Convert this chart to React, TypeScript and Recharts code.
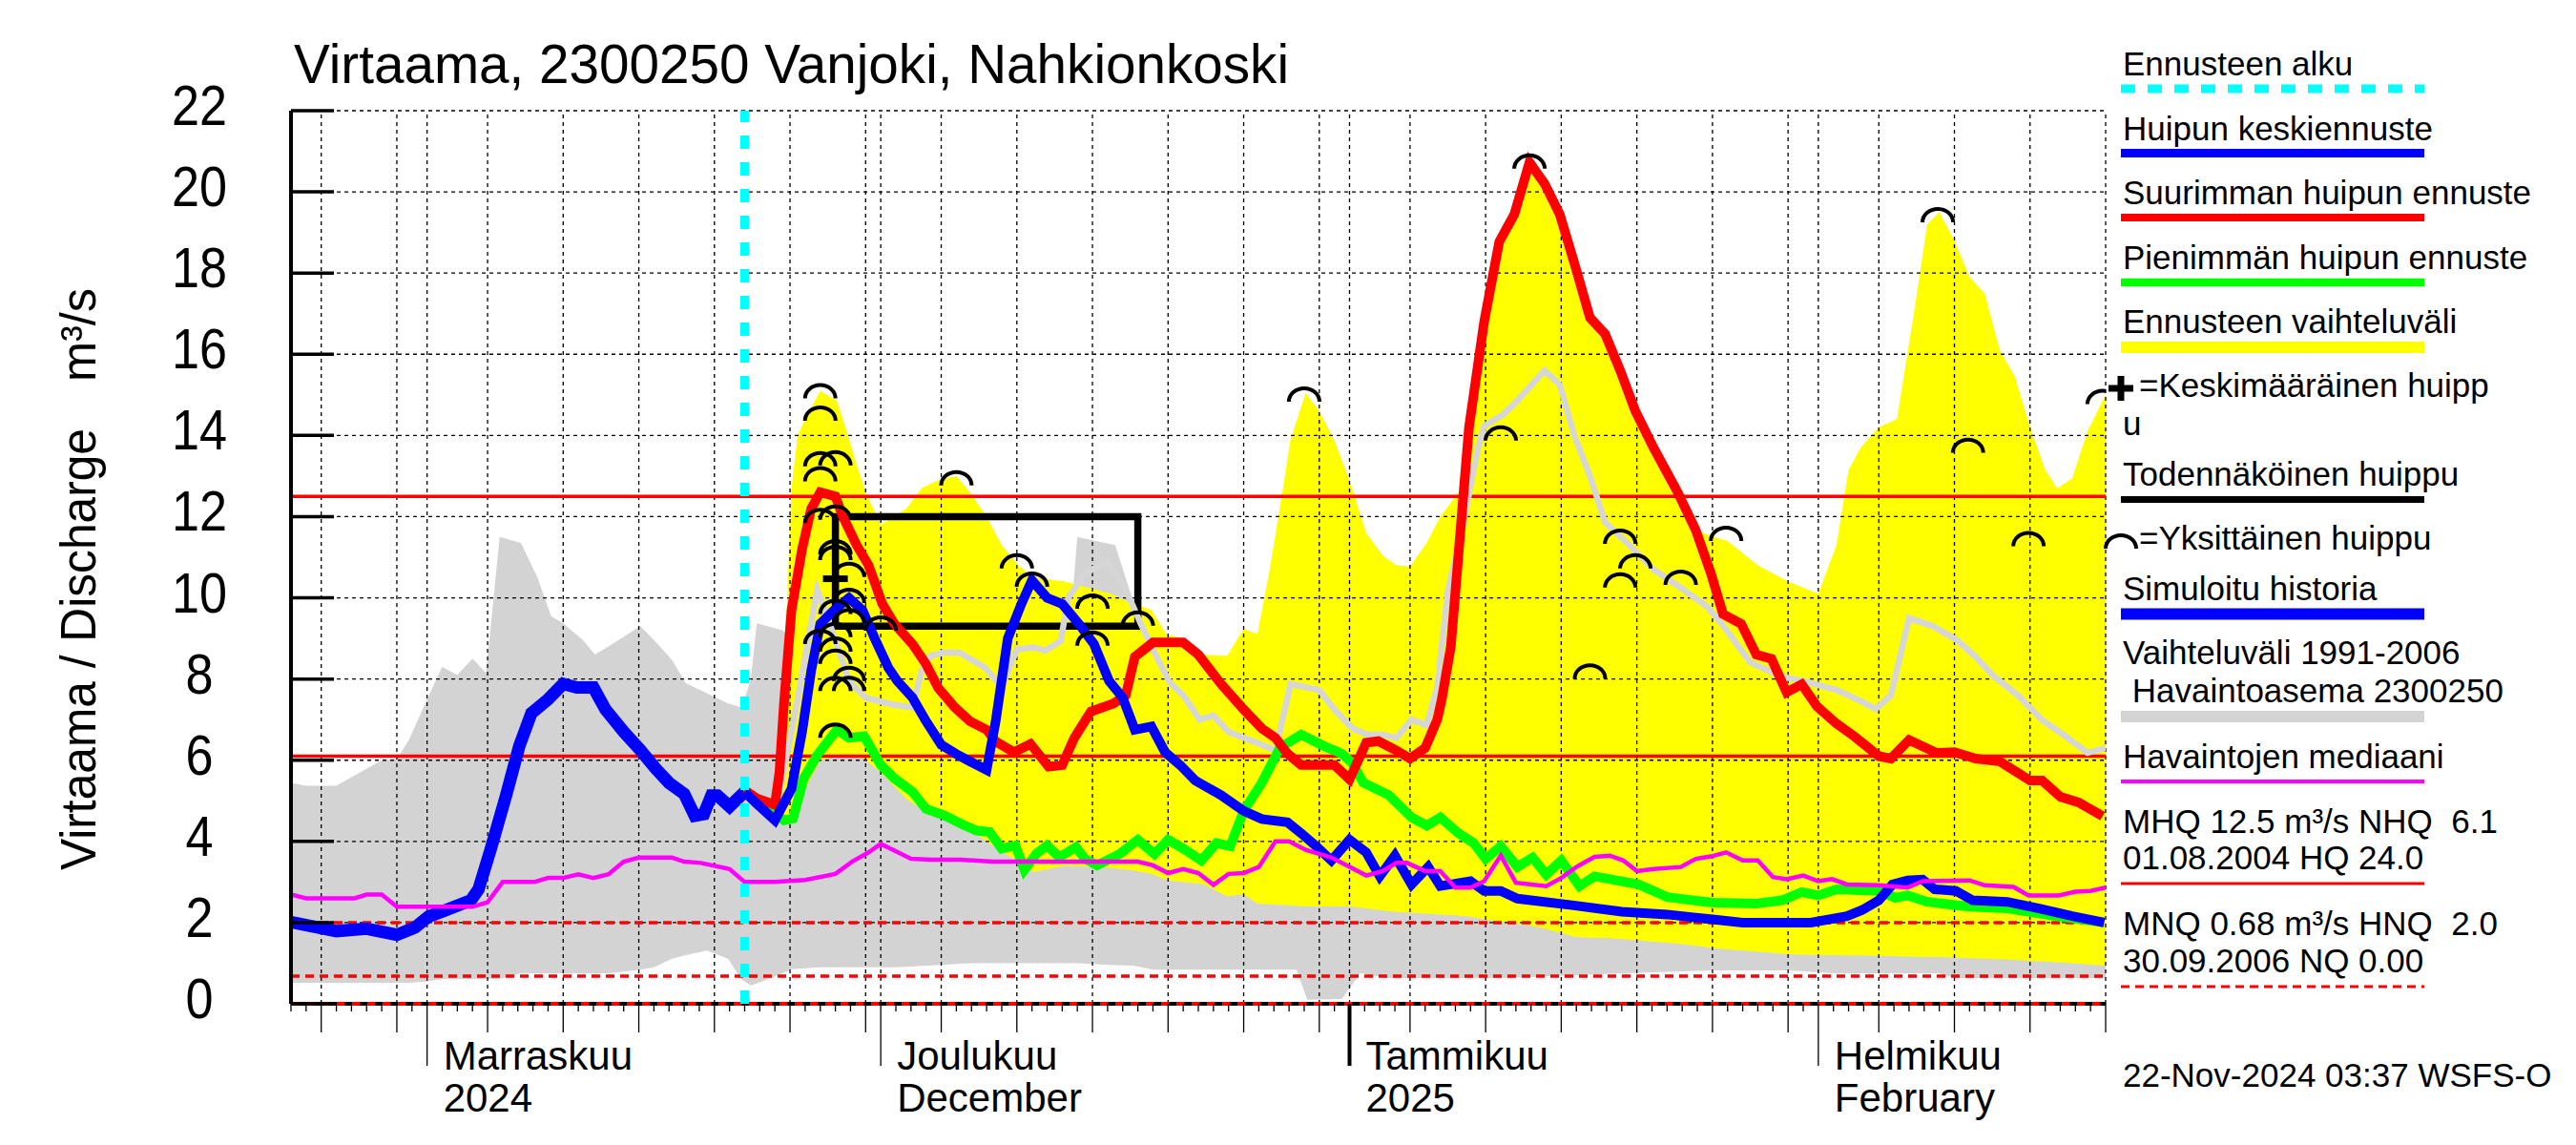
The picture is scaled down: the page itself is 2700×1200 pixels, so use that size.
import React from "react";
import {
  ComposedChart,
  Area,
  Line,
  Scatter,
  XAxis,
  YAxis,
  ReferenceLine,
  ReferenceArea,
} from "recharts";

const FONT = "'Liberation Sans', Arial, Helvetica, sans-serif";
const DAY_MS = 86400000;
// day 0 of the x axis = 23.10.2024
const START = Date.UTC(2024, 9, 23);

// ---- axis labels ----
const yTicks = [0, 2, 4, 6, 8, 10, 12, 14, 16, 18, 20, 22];
const monthStartDays = [9, 39, 70, 101];
const monthTop = ["Marraskuu", "Joulukuu", "Tammikuu", "Helmikuu"];
const monthBottom = ["2024", "December", "2025", "February"];

// ---- reference levels ----
const forecastStart = 30;
const MHQ = 12.5;
const NHQ = 6.1;
const HNQ = 2.0;
const MNQ = 0.68;

// ---- observed range 1991-2006 (grey band) ----
const grayDays = [0, 1, 3, 4, 6, 7, 7.8, 9, 10, 11, 12, 12.9, 13.8, 15.2, 16.3, 17.2, 18, 19.3, 20.1, 21, 23.1, 24, 25.2, 26.1, 27.5, 28.9, 29.8, 30.4, 30.8, 32.5, 33.1, 35, 40, 45, 50, 51.5, 52, 54.5, 55.7, 57, 62, 66.5, 67.2, 69.5, 70.7, 72.6, 80, 88, 94, 99, 102, 109, 110, 120];
const grayHigh = [5.44, 5.37, 5.37, 5.58, 6.0, 6.03, 6.5, 7.5, 8.3, 8.1, 8.5, 8.15, 11.5, 11.35, 10.5, 9.55, 9.37, 8.96, 8.6, 8.8, 9.3, 8.96, 8.47, 7.9, 7.65, 7.4, 7.3, 7.97, 9.37, 9.2, 8.98, 8.5, 8.0, 8.5, 8.8, 9.2, 11.5, 11.3, 9.9, 8.5, 7.5, 7.2, 7.0, 7.0, 7.0, 7.0, 7.0, 6.5, 6.5, 6.0, 6.0, 6.0, 6.0, 5.5];
const grayLow = [0.52, 0.52, 0.52, 0.52, 0.52, 0.52, 0.52, 0.55, 0.61, 0.61, 0.61, 0.61, 0.61, 0.75, 0.75, 0.75, 0.75, 0.75, 0.75, 0.75, 0.84, 0.9, 1.11, 1.2, 1.31, 1.11, 0.6, 0.45, 0.5, 0.75, 0.85, 0.9, 0.9, 1.0, 1.0, 1.0, 1.0, 0.95, 0.94, 0.84, 0.84, 0.84, 0.1, 0.12, 0.75, 0.63, 0.63, 0.75, 0.82, 0.82, 0.75, 0.75, 0.63, 0.63];

// ---- forecast range (yellow band) ----
const yellowDays = [30, 31, 32, 32.6, 33.1, 33.5, 34, 35, 36.1, 36.5, 37.4, 38, 39, 40.7, 41.7, 42.8, 44, 44.9, 46, 47, 48.1, 49.1, 51.2, 54.2, 55.4, 56.9, 57.9, 58.9, 60.3, 61.9, 63, 63.9, 64.7, 65.6, 66.1, 67.1, 68, 69, 70, 71.1, 72.2, 73.1, 74, 75.1, 76, 77.2, 77.9, 78.9, 79.9, 80.9, 81.9, 82.9, 83.9, 84.9, 85.9, 86.9, 87.9, 88.9, 90.1, 91.7, 92.9, 94.1, 95, 97, 99, 101, 102.2, 103, 103.8, 105, 106.2, 107.4, 108.2, 109, 110, 111, 112, 113, 114, 115, 116, 116.8, 117.8, 118.8, 120];
const yellowHigh = [5.26, 5.0, 4.8, 8.0, 12.7, 14.0, 14.4, 15.1, 14.85, 14.4, 13.3, 12.6, 11.8, 12.2, 12.7, 12.9, 13.0, 12.6, 12.0, 11.3, 10.8, 10.5, 10.4, 10.1, 9.9, 9.7, 9.1, 9.0, 8.6, 8.57, 9.24, 9.1, 10.65, 12.7, 13.9, 15.04, 14.6, 13.87, 12.9, 11.6, 11.04, 10.8, 10.77, 11.35, 12.0, 12.6, 14.2, 16.8, 18.77, 19.45, 20.73, 20.2, 19.45, 18.2, 16.9, 16.5, 15.6, 14.6, 13.7, 12.6, 11.66, 11.5, 11.4, 10.8, 10.4, 10.1, 11.3, 13.15, 13.7, 14.2, 14.4, 17.2, 19.2, 19.5, 18.8, 17.9, 17.5, 16.1, 15.45, 14.2, 13.15, 12.7, 12.95, 14.1, 15.0];
const yellowLow = [5.2, 4.85, 4.45, 4.45, 4.55, 4.9, 5.3, 6.0, 6.1, 6.1, 6.1, 6.0, 5.7, 5.05, 4.8, 4.7, 4.45, 4.3, 4.0, 3.75, 3.5, 3.25, 3.4, 3.35, 3.3, 3.2, 3.05, 3.0, 2.95, 2.65, 2.7, 2.47, 2.45, 2.43, 2.42, 2.4, 2.4, 2.4, 2.4, 2.35, 2.3, 2.26, 2.24, 2.22, 2.2, 2.17, 2.15, 2.08, 2.03, 1.98, 1.93, 1.85, 1.75, 1.65, 1.63, 1.62, 1.6, 1.57, 1.53, 1.48, 1.43, 1.37, 1.34, 1.28, 1.22, 1.2, 1.2, 1.19, 1.19, 1.18, 1.17, 1.16, 1.15, 1.15, 1.14, 1.12, 1.11, 1.1, 1.08, 1.06, 1.04, 1.02, 1.0, 0.97, 0.94];

// ---- light grey forecast line ----
const lightDays = [30, 32, 33.5, 34.8, 35.5, 36.5, 36.9, 38.0, 39.8, 41.1, 41.7, 42.3, 43.1, 44.2, 45.9, 47.0, 48.0, 49.1, 49.9, 50.9, 51.4, 52.5, 54.0, 55.2, 56.2, 57.4, 58.1, 59.0, 60.1, 61.0, 62.0, 63.0, 63.9, 65.1, 66.1, 68.0, 69.0, 70.2, 71.2, 72.2, 73.1, 74.1, 75.1, 75.8, 76.5, 77.5, 78.5, 78.9, 80.1, 80.9, 82.9, 83.9, 84.9, 85.9, 86.9, 88.5, 90.1, 91.7, 93.7, 94.9, 96.5, 98.5, 100.1, 102.2, 103.8, 104.8, 105.8, 107.0, 108.6, 110.2, 111.4, 112.6, 114.2, 115.8, 117.4, 118.8, 120];
const lightValues = [5.2, 4.6, 7.5, 10.2, 9.5, 8.4, 7.95, 7.54, 7.37, 7.3, 8.2, 8.57, 8.65, 8.65, 8.28, 7.8, 8.73, 8.78, 8.7, 8.94, 10.0, 10.6, 10.9, 10.2, 9.36, 8.43, 7.92, 7.6, 7.0, 7.1, 6.7, 6.55, 6.43, 6.24, 7.88, 7.73, 7.25, 6.78, 6.63, 6.63, 6.55, 7.0, 6.86, 7.8, 10.17, 11.8, 13.7, 14.23, 14.5, 14.78, 15.6, 15.25, 13.96, 13.0, 11.86, 11.3, 10.7, 10.3, 9.77, 9.22, 8.41, 8.07, 7.94, 7.73, 7.46, 7.26, 7.6, 9.5, 9.3, 8.95, 8.55, 8.07, 7.6, 6.99, 6.58, 6.18, 6.3];

// ---- simulated history ----
const historyDays = [0, 3, 5, 7, 8.2, 9.1, 10.2, 11.9, 12.4, 13.2, 14.2, 15.1, 15.9, 17, 18, 18.9, 20, 20.8, 22, 23.1, 24.1, 25, 26, 26.7, 27.3, 27.8, 28.2, 29, 30];
const historyValues = [2.01, 1.79, 1.85, 1.7, 1.88, 2.15, 2.3, 2.55, 2.82, 3.8, 5.1, 6.35, 7.16, 7.5, 7.88, 7.79, 7.79, 7.25, 6.7, 6.25, 5.8, 5.44, 5.17, 4.63, 4.67, 5.13, 5.13, 4.86, 5.22];

// ---- median of observations ----
const medianDays = [0, 1, 4.2, 5, 6, 7, 12, 13, 14, 16.1, 17, 18, 19, 20, 21, 22, 23, 25.2, 26, 27.1, 29, 30, 32, 34, 36, 37.1, 38.2, 39, 40.3, 41, 42.4, 44.3, 46.4, 53.3, 56, 57, 58, 59, 60, 61, 62, 63, 64, 65.1, 66, 67.1, 68.8, 70, 71.1, 72.2, 73.1, 73.8, 75, 76, 77, 78, 78.9, 80, 81, 83, 84, 85, 86.2, 87.2, 88.1, 89, 90.1, 91.9, 92.9, 93.9, 94.9, 96, 97, 98, 98.9, 100, 101, 101.9, 102.9, 105, 106.9, 107.9, 111, 112, 113.9, 114.9, 116.9, 118, 119, 120];
const medianValues = [2.69, 2.6, 2.6, 2.69, 2.69, 2.39, 2.39, 2.5, 3.0, 3.0, 3.1, 3.1, 3.19, 3.1, 3.19, 3.5, 3.6, 3.6, 3.5, 3.47, 3.32, 3.0, 3.0, 3.05, 3.2, 3.5, 3.73, 3.94, 3.7, 3.57, 3.55, 3.55, 3.5, 3.5, 3.5, 3.41, 3.22, 3.32, 3.22, 2.93, 3.2, 3.22, 3.37, 4.0, 4.0, 3.79, 3.6, 3.37, 3.16, 3.27, 3.47, 3.47, 3.27, 3.27, 2.86, 2.86, 3.02, 3.65, 2.98, 2.9, 3.1, 3.37, 3.62, 3.65, 3.53, 3.27, 3.32, 3.37, 3.57, 3.63, 3.73, 3.53, 3.53, 3.12, 3.07, 3.16, 3.02, 3.07, 2.94, 2.92, 2.86, 3.02, 3.04, 2.92, 2.88, 2.67, 2.67, 2.76, 2.78, 2.86];

// ---- largest peak forecast (red) ----
const redDays = [30, 30.8, 32.0, 32.3, 32.6, 33.1, 33.8, 34.4, 35.0, 36.0, 36.5, 37.4, 38.2, 39.1, 39.9, 41.1, 42.0, 42.8, 43.9, 44.9, 46.0, 46.6, 47.8, 48.9, 50.1, 51.0, 51.8, 52.9, 54.4, 55.2, 55.8, 57.0, 59.0, 60.0, 61.5, 63.0, 64.2, 65.1, 65.9, 66.8, 69.0, 70.0, 71.1, 71.9, 73.1, 74.0, 75.0, 75.8, 76.1, 76.7, 77.3, 77.9, 78.9, 79.9, 80.9, 81.9, 82.9, 83.9, 84.9, 85.9, 86.9, 87.9, 88.9, 90.1, 91.7, 92.9, 93.9, 94.7, 95.9, 96.9, 97.9, 98.9, 99.9, 100.9, 102.2, 103.4, 105.0, 105.8, 107.0, 108.8, 110.0, 111.4, 113.0, 115.0, 115.8, 117.0, 118.2, 119.8];
const redValues = [5.26, 5.06, 4.9, 5.7, 7.4, 9.7, 11.2, 12.2, 12.6, 12.5, 12.0, 11.3, 10.8, 9.85, 9.36, 8.86, 8.36, 7.78, 7.3, 6.96, 6.75, 6.46, 6.2, 6.4, 5.84, 5.88, 6.55, 7.2, 7.4, 7.6, 8.55, 8.9, 8.9, 8.6, 7.88, 7.25, 6.78, 6.55, 6.16, 5.88, 5.88, 5.53, 6.43, 6.47, 6.24, 6.04, 6.3, 7.0, 7.5, 8.8, 11.5, 14.2, 16.8, 18.77, 19.45, 20.73, 20.2, 19.45, 18.2, 16.9, 16.5, 15.6, 14.6, 13.7, 12.6, 11.66, 10.6, 9.6, 9.36, 8.6, 8.5, 7.67, 7.87, 7.33, 6.9, 6.58, 6.1, 6.04, 6.5, 6.18, 6.2, 6.04, 5.97, 5.5, 5.5, 5.1, 4.96, 4.62];

// ---- mean peak forecast (blue) ----
const blueDays = [30, 30.8, 32.0, 33.1, 33.8, 34.4, 35.0, 35.9, 36.9, 37.8, 38.6, 39.5, 40.1, 41.1, 42.0, 43.0, 44.1, 44.9, 46.0, 46.6, 47.4, 48.3, 49.0, 50.0, 51.0, 52.1, 53.1, 54.1, 55.0, 55.8, 56.9, 57.8, 58.8, 59.8, 61.5, 63.0, 64.2, 65.9, 66.8, 67.8, 68.8, 70.0, 71.1, 72.0, 73.0, 74.1, 75.2, 76.0, 78.0, 78.9, 80.0, 81.1, 84.7, 88.0, 91.0, 94.0, 96.0, 100.5, 102.9, 103.9, 105.0, 105.9, 106.9, 107.9, 108.7, 110.1, 111.2, 113.5, 115.6, 117.8, 119.9];
const blueValues = [5.22, 4.93, 4.52, 5.3, 6.7, 8.2, 9.36, 9.69, 10.0, 9.69, 9.0, 8.28, 7.95, 7.54, 6.96, 6.38, 6.13, 5.97, 5.76, 6.96, 9.0, 9.85, 10.43, 10.0, 9.85, 9.36, 8.86, 7.95, 7.54, 6.75, 6.83, 6.2, 5.88, 5.5, 5.14, 4.75, 4.55, 4.47, 4.2, 3.88, 3.53, 4.04, 3.73, 3.14, 3.65, 2.94, 3.37, 2.9, 3.02, 2.78, 2.78, 2.59, 2.43, 2.27, 2.2, 2.08, 2.0, 2.0, 2.16, 2.31, 2.55, 2.94, 3.04, 3.06, 2.82, 2.78, 2.55, 2.51, 2.35, 2.16, 2.0];

// ---- smallest peak forecast (green) ----
const greenDays = [30, 31.2, 32.6, 33.2, 33.9, 34.8, 36.1, 36.9, 37.9, 39.0, 39.9, 41.1, 42.0, 43.2, 44.5, 45.3, 46.2, 47.0, 47.9, 48.5, 49.3, 50.0, 50.8, 51.9, 52.5, 53.3, 54.8, 56.0, 57.1, 58.0, 59.1, 60.2, 61.2, 62.1, 63.0, 64.2, 65.4, 66.8, 68.3, 69.5, 70.2, 70.9, 72.6, 74.1, 75.1, 76.0, 77.2, 78.2, 79.0, 80.0, 81.1, 82.1, 83.0, 84.0, 85.2, 86.2, 89.1, 91.0, 94.0, 96.9, 98.6, 99.9, 101.0, 102.2, 105.0, 106.1, 106.9, 108.2, 111.0, 113.5, 116.7, 119.9];
const greenValues = [5.22, 4.93, 4.52, 4.56, 5.55, 6.13, 6.75, 6.55, 6.59, 5.88, 5.55, 5.22, 4.8, 4.64, 4.4, 4.27, 4.23, 3.82, 3.9, 3.3, 3.7, 3.9, 3.61, 3.86, 3.57, 3.41, 3.69, 4.04, 3.69, 4.04, 3.8, 3.53, 3.96, 3.88, 4.75, 5.45, 6.31, 6.63, 6.35, 6.16, 5.92, 5.45, 5.14, 4.59, 4.39, 4.59, 4.2, 3.96, 3.57, 3.88, 3.37, 3.6, 3.18, 3.53, 2.9, 3.14, 2.94, 2.63, 2.49, 2.47, 2.55, 2.75, 2.67, 2.82, 2.78, 2.61, 2.67, 2.51, 2.39, 2.35, 2.16, 2.0];

// ---- single ensemble peaks (arch markers) ----
const peakDays = [35, 35, 35, 36, 35, 35, 36, 36, 36, 36.9, 36.9, 36, 36.9, 35, 36, 36, 36, 36.9, 36, 36.9, 36, 39, 44, 48, 49, 53, 53, 56, 67, 80, 81.9, 87.9, 88.9, 87.9, 91.9, 94.9, 85.9, 108.9, 110.9, 114.9, 119.8];
const peakValues = [15.24, 14.69, 13.57, 13.59, 13.2, 12.17, 12.25, 11.4, 11.26, 10.84, 10.2, 9.93, 9.7, 9.19, 9.36, 9.0, 8.7, 8.28, 8.03, 8.03, 6.88, 9.52, 13.1, 11.05, 10.6, 10.06, 9.15, 9.64, 15.16, 14.2, 20.9, 11.66, 11.05, 10.58, 10.65, 11.73, 8.34, 19.58, 13.9, 11.6, 15.1];

// ---- mean peak and probable peak window ----
const meanPeakDays = [36];
const meanPeakValues = [10.47];
const probableDays = [36, 56];
const probableValues = [9.3, 12.0];

const toPoints = (days: number[], vals: number[]) => days.map((d, i) => ({ d, v: vals[i] }));
const toBand = (days: number[], lo: number[], hi: number[]) =>
  days.map((d, i) => ({ d, r: [lo[i], hi[i]] }));

const dateOf = (day: number) => new Date(START + day * DAY_MS);
const allDays = Array.from({ length: 121 }, (_, i) => i);
const gridDays = allDays.filter((d) => {
  const dom = dateOf(d).getUTCDate();
  return dom === 1 || dom % 5 === 0;
});

function XTick(props: any) {
  const { x, y, payload } = props;
  const dt = dateOf(payload.value);
  const dom = dt.getUTCDate();
  const m = monthStartDays.indexOf(payload.value);
  const yearStart = dom === 1 && dt.getUTCMonth() === 0;
  const len = dom === 1 ? 65 : dom % 5 === 0 ? 30 : 8;
  return (
    <g>
      <line x1={x} x2={x} y1={y} y2={y + len} stroke="#000" strokeWidth={yearStart ? 4 : 1.3} />
      {m >= 0 && (
        <text fontFamily={FONT} fontSize={42} fill="#000">
          <tspan x={x + 17} y={y + 69}>{monthTop[m]}</tspan>
          <tspan x={x + 17} y={y + 113}>{monthBottom[m]}</tspan>
        </text>
      )}
    </g>
  );
}

function YTick(props: any) {
  const { x, y, payload } = props;
  const s = String(payload.value);
  return (
    <g>
      <line x1={x} x2={x + 45} y1={y} y2={y} stroke="#000" strokeWidth={3.5} />
      <text
        x={x - 96}
        y={y + 15}
        textAnchor="middle"
        fontFamily={FONT}
        fontSize={60}
        fill="#000"
        textLength={s.length * 29}
        lengthAdjust="spacingAndGlyphs"
      >
        {s}
      </text>
    </g>
  );
}

function Arch({ cx, cy }: { cx: number; cy: number }) {
  return (
    <path
      d={`M${cx - 16},${cy + 14} A16 14 0 0 1 ${cx + 16},${cy + 14}`}
      fill="none"
      stroke="#000"
      strokeWidth={4}
    />
  );
}

function Plus({ cx, cy }: { cx: number; cy: number }) {
  return (
    <g fill="#000">
      <rect x={cx - 13} y={cy - 3.5} width={26} height={7} />
      <rect x={cx - 3.5} y={cy - 13} width={7} height={26} />
    </g>
  );
}

// legend: text lines (baseline y) and a swatch below them
const legendItems = [
  { lines: ["Ennusteen alku"], ys: [78.5], sy: 93, sw: 9, color: "#00ffff", dash: "15 13" },
  { lines: ["Huipun keskiennuste"], ys: [146.6], sy: 160.5, sw: 9, color: "#0000ff" },
  { lines: ["Suurimman huipun ennuste"], ys: [214], sy: 228, sw: 8, color: "#ff0000" },
  { lines: ["Pienimmän huipun ennuste"], ys: [282], sy: 296, sw: 8.5, color: "#00ff00" },
  { lines: ["Ennusteen vaihteluväli"], ys: [349], sy: 364, sw: 12, color: "#ffff00" },
  { lines: ["Todennäköinen huippu"], ys: [509], sy: 523.5, sw: 7, color: "#000000" },
  { lines: ["Simuloitu historia"], ys: [629], sy: 643.5, sw: 12, color: "#0000ff" },
  { lines: ["Vaihteluväli 1991-2006", " Havaintoasema 2300250"], ys: [696, 736], sy: 751, sw: 12, color: "#d3d3d3" },
  { lines: ["Havaintojen mediaani"], ys: [805], sy: 819, sw: 4, color: "#ff00ff" },
  { lines: ["MHQ 12.5 m³/s NHQ  6.1", "01.08.2004 HQ 24.0"], ys: [872.5, 911], sy: 926, sw: 3, color: "#ff0000" },
  { lines: ["MNQ 0.68 m³/s HNQ  2.0", "30.09.2006 NQ 0.00"], ys: [980, 1019], sy: 1034, sw: 3, color: "#ff0000", dash: "9 6" },
];

export default function App() {
  const gray = toBand(grayDays, grayLow, grayHigh);
  const yellow = toBand(yellowDays, yellowLow, yellowHigh);
  return (
    <div style={{ position: "absolute", left: 0, top: 0, width: 2700, height: 1200, background: "#fff" }}>
      <ComposedChart width={2700} height={1200} margin={{ top: 116, right: 493, bottom: 0, left: 0 }}>
        <XAxis
          dataKey="d"
          type="number"
          domain={[0, 120]}
          ticks={allDays}
          interval={0}
          tick={<XTick />}
          tickLine={false}
          tickSize={0}
          tickMargin={0}
          axisLine={false}
          height={148}
          allowDataOverflow
        />
        <YAxis
          type="number"
          domain={[0, 22]}
          ticks={yTicks}
          interval={0}
          tick={<YTick />}
          tickLine={false}
          tickSize={0}
          tickMargin={0}
          width={305}
          axisLine={{ stroke: "#000", strokeWidth: 4 }}
          allowDataOverflow
        />
        <Area data={gray} dataKey="r" type="linear" fill="#d3d3d3" fillOpacity={1} stroke="none" isAnimationActive={false} />
        <Area data={yellow} dataKey="r" type="linear" fill="#ffff00" fillOpacity={1} stroke="none" isAnimationActive={false} />

        {gridDays.map((d) => (
          <ReferenceLine key={"gx" + d} x={d} stroke="#000" strokeWidth={1.3} strokeDasharray="4 4" />
        ))}
        {yTicks.filter((v) => v > 0).map((v) => (
          <ReferenceLine key={"gy" + v} y={v} stroke="#000" strokeWidth={1.3} strokeDasharray="4 4" />
        ))}
        <ReferenceLine y={MHQ} stroke="#ff0000" strokeWidth={3.5} />
        <ReferenceLine y={NHQ} stroke="#ff0000" strokeWidth={3.5} />
        <ReferenceLine y={HNQ} stroke="#ff0000" strokeWidth={3.5} strokeDasharray="9 6" />
        <ReferenceLine y={MNQ} stroke="#ff0000" strokeWidth={3.5} strokeDasharray="9 6" />
        <ReferenceLine y={0} stroke="#000" strokeWidth={4} />
        <ReferenceLine y={0} stroke="#ff0000" strokeWidth={4} strokeDasharray="8 8" />

        <Line data={toPoints(lightDays, lightValues)} dataKey="v" type="linear" stroke="#d6d6d6" strokeWidth={6.5} dot={false} isAnimationActive={false} />
        <Line data={toPoints(historyDays, historyValues)} dataKey="v" type="linear" stroke="#0000ff" strokeWidth={13} dot={false} isAnimationActive={false} />
        <Line data={toPoints(greenDays, greenValues)} dataKey="v" type="linear" stroke="#00ff00" strokeWidth={10} dot={false} isAnimationActive={false} />
        <Line data={toPoints(redDays, redValues)} dataKey="v" type="linear" stroke="#ff0000" strokeWidth={10} dot={false} isAnimationActive={false} />
        <Line data={toPoints(blueDays, blueValues)} dataKey="v" type="linear" stroke="#0000ff" strokeWidth={10} dot={false} isAnimationActive={false} />
        <Line data={toPoints(medianDays, medianValues)} dataKey="v" type="linear" stroke="#ff00ff" strokeWidth={4.5} dot={false} isAnimationActive={false} />

        <ReferenceLine x={forecastStart} stroke="#00ffff" strokeWidth={9} strokeDasharray="14 14" />
        <ReferenceArea
          x1={probableDays[0]}
          x2={probableDays[1]}
          y1={probableValues[0]}
          y2={probableValues[1]}
          fill="none"
          fillOpacity={0}
          stroke="#000"
          strokeWidth={7.5}
        />
        <Scatter data={toPoints(peakDays, peakValues)} dataKey="v" shape={(p: any) => <Arch cx={p.cx} cy={p.cy} />} isAnimationActive={false} />
        <Scatter data={toPoints(meanPeakDays, meanPeakValues)} dataKey="v" shape={(p: any) => <Plus cx={p.cx} cy={p.cy} />} isAnimationActive={false} />
      </ComposedChart>

      <svg
        width={2700}
        height={1200}
        style={{ position: "absolute", left: 0, top: 0, pointerEvents: "none" }}
        fontFamily={FONT}
      >
        <text x={308} y={87} fontSize={58} fill="#000" textLength={1043} lengthAdjust="spacingAndGlyphs">
          Virtaama, 2300250 Vanjoki, Nahkionkoski
        </text>
        <text transform="translate(100,912) rotate(-90)" fontSize={52} fill="#000" textLength={463} lengthAdjust="spacingAndGlyphs">
          Virtaama / Discharge
        </text>
        <text transform="translate(100,400) rotate(-90)" fontSize={52} fill="#000" textLength={98} lengthAdjust="spacingAndGlyphs">
          m³/s
        </text>

        {legendItems.map((it, i) => (
          <g key={i}>
            {it.lines.map((t, j) => (
              <text key={j} x={2225} y={it.ys[j]} fontSize={35} fill="#000" style={{ whiteSpace: "pre" }}>
                {t}
              </text>
            ))}
            <line x1={2223} x2={2541} y1={it.sy} y2={it.sy} stroke={it.color} strokeWidth={it.sw} strokeDasharray={it.dash} />
          </g>
        ))}
        <Plus cx={2223} cy={407} />
        <text x={2242} y={416} fontSize={35} fill="#000">=Keskimääräinen huipp</text>
        <text x={2225} y={456} fontSize={35} fill="#000">u</text>
        <Arch cx={2223} cy={561} />
        <text x={2242} y={576} fontSize={35} fill="#000">=Yksittäinen huippu</text>
        <text x={2225} y={1139} fontSize={35} fill="#000">22-Nov-2024 03:37 WSFS-O</text>
      </svg>
    </div>
  );
}
